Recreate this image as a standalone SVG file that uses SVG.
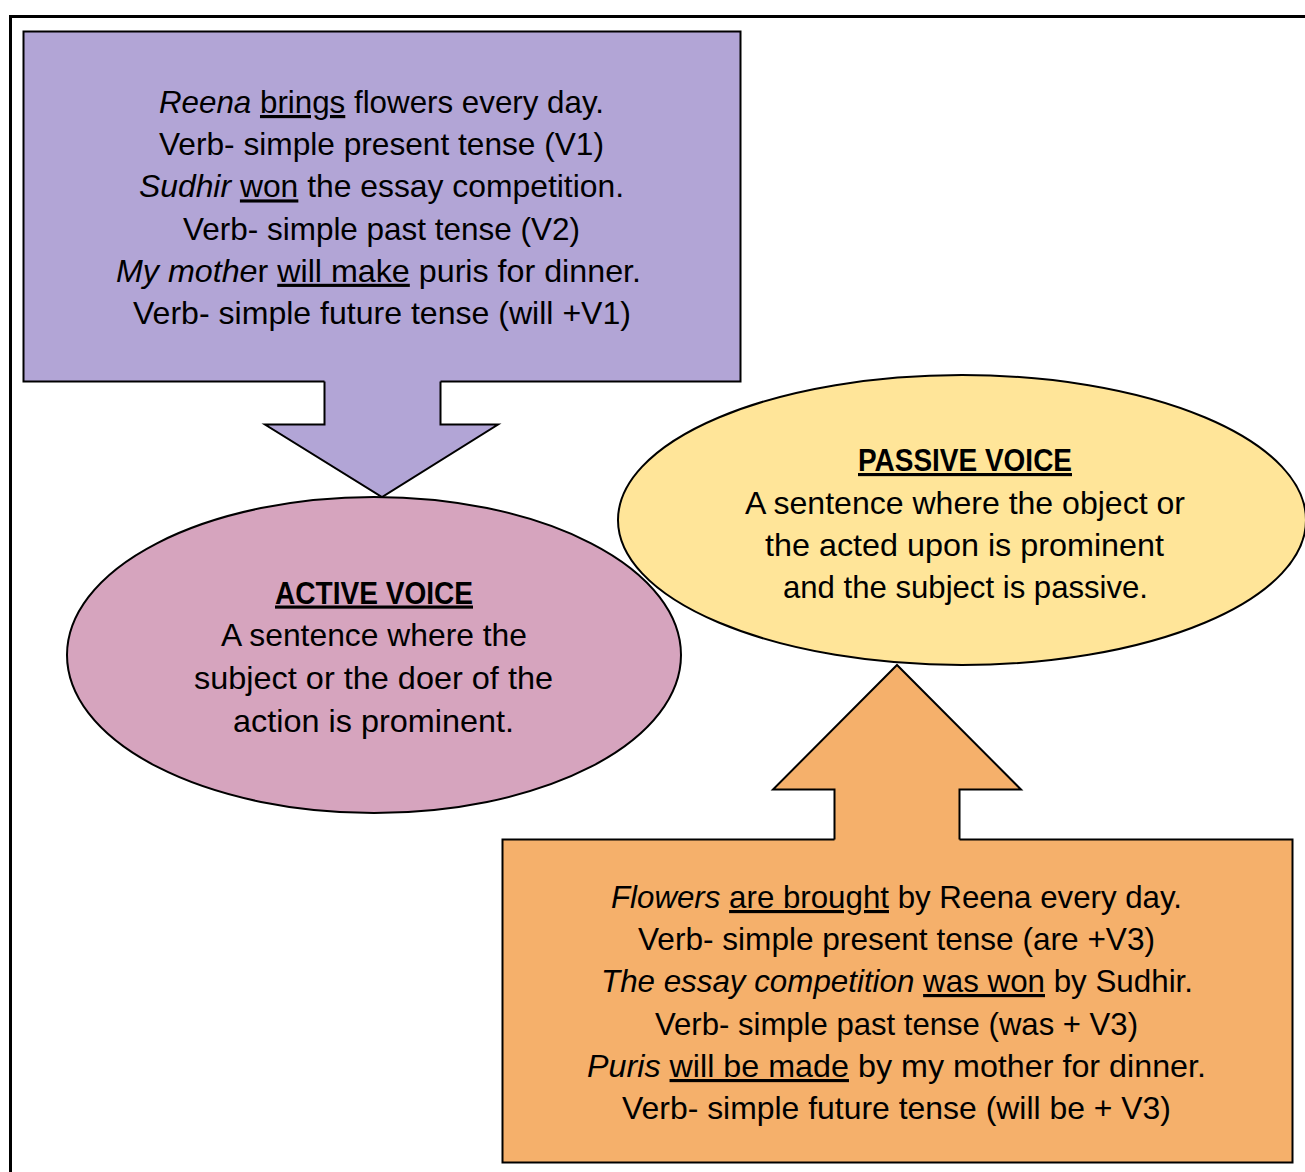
<svg xmlns="http://www.w3.org/2000/svg" width="1305" height="1172" viewBox="0 0 1305 1172">
<style>
.t{font-family:"Liberation Sans",Arial,sans-serif;font-size:31.5px;fill:#000;text-anchor:middle}
.h{font-weight:bold;text-decoration:underline}
.i{font-style:italic}
.u{text-decoration:underline}
.sh{stroke:#000;stroke-width:2;stroke-linejoin:miter}
.ol{fill:none;stroke:#000;stroke-width:2;stroke-linejoin:miter}
</style>
<rect width="1305" height="1172" fill="#fff"/>
<path d="M10.5,1172 V16.5 H1305" fill="none" stroke="#000" stroke-width="3"/>

<g id="active-examples">
<rect x="23.5" y="31.5" width="717" height="350" fill="#B2A5D6" class="sh"/>
<text class="t" x="381.5" y="113" textLength="445" lengthAdjust="spacingAndGlyphs"><tspan class="i">Reena</tspan> <tspan class="u">brings</tspan> flowers every day.</text>
<text class="t" x="381.5" y="155.2" textLength="445" lengthAdjust="spacingAndGlyphs">Verb- simple present tense (V1)</text>
<text class="t" x="381.5" y="197.4" textLength="485" lengthAdjust="spacingAndGlyphs"><tspan class="i">Sudhir</tspan> <tspan class="u">won</tspan> the essay competition.</text>
<text class="t" x="381.5" y="239.6" textLength="397" lengthAdjust="spacingAndGlyphs">Verb- simple past tense (V2)</text>
<text class="t" x="378.5" y="281.8" textLength="525" lengthAdjust="spacingAndGlyphs"><tspan class="i">My mothe</tspan>r <tspan class="u">will make</tspan> puris for dinner.</text>
<text class="t" x="382" y="324" textLength="498" lengthAdjust="spacingAndGlyphs">Verb- simple future tense (will +V1)</text>
</g>

<g id="passive-examples">
<rect x="502.5" y="839.5" width="790" height="323" fill="#F5B06B" class="sh"/>
<text class="t" x="896.5" y="908" textLength="571" lengthAdjust="spacingAndGlyphs"><tspan class="i">Flowers</tspan> <tspan class="u">are brought</tspan> by Reena every day.</text>
<text class="t" x="896.5" y="950" textLength="517" lengthAdjust="spacingAndGlyphs">Verb- simple present tense (are +V3)</text>
<text class="t" x="897" y="992" textLength="592" lengthAdjust="spacingAndGlyphs"><tspan class="i">The essay competition</tspan> <tspan class="u">was won</tspan> by Sudhir.</text>
<text class="t" x="896.5" y="1034.5" textLength="483" lengthAdjust="spacingAndGlyphs">Verb- simple past tense (was + V3)</text>
<text class="t" x="896.5" y="1077" textLength="619" lengthAdjust="spacingAndGlyphs"><tspan class="i">Puris</tspan> <tspan class="u">will be made</tspan> by my mother for dinner.</text>
<text class="t" x="896.5" y="1119" textLength="549" lengthAdjust="spacingAndGlyphs">Verb- simple future tense (will be + V3)</text>
</g>

<g id="connectors">
<polygon points="324.5,378 324.5,424.5 265,424.5 382,497 498,424.5 440.5,424.5 440.5,378" fill="#B2A5D6"/>
<polyline points="324.5,381.5 324.5,424.5 265,424.5 382,497 498,424.5 440.5,424.5 440.5,381.5" class="ol"/>
<polygon points="834.5,842 834.5,789.5 773,789.5 897,665 1021,789.5 959.5,789.5 959.5,842" fill="#F5B06B"/>
<polyline points="834.5,839.5 834.5,789.5 773,789.5 897,665 1021,789.5 959.5,789.5 959.5,839.5" class="ol"/>
</g>

<g id="active-voice">
<ellipse cx="374" cy="655" rx="307" ry="158" fill="#D6A4BE" class="sh"/>
<text class="t h" x="374" y="603.5" textLength="198" lengthAdjust="spacingAndGlyphs">ACTIVE VOICE</text>
<text class="t" x="374" y="646" textLength="306" lengthAdjust="spacingAndGlyphs">A sentence where the</text>
<text class="t" x="373.5" y="689" textLength="359" lengthAdjust="spacingAndGlyphs">subject or the doer of the</text>
<text class="t" x="373.5" y="731.5" textLength="281" lengthAdjust="spacingAndGlyphs">action is prominent.</text>
</g>

<g id="passive-voice">
<ellipse cx="962" cy="520" rx="344" ry="145" fill="#FFE599" class="sh"/>
<text class="t h" x="965" y="471" textLength="214" lengthAdjust="spacingAndGlyphs">PASSIVE VOICE</text>
<text class="t" x="965" y="513.5" textLength="440" lengthAdjust="spacingAndGlyphs">A sentence where the object or</text>
<text class="t" x="964.5" y="555.5" textLength="399" lengthAdjust="spacingAndGlyphs">the acted upon is prominent</text>
<text class="t" x="965.5" y="597.5" textLength="365" lengthAdjust="spacingAndGlyphs">and the subject is passive.</text>
</g>
</svg>
